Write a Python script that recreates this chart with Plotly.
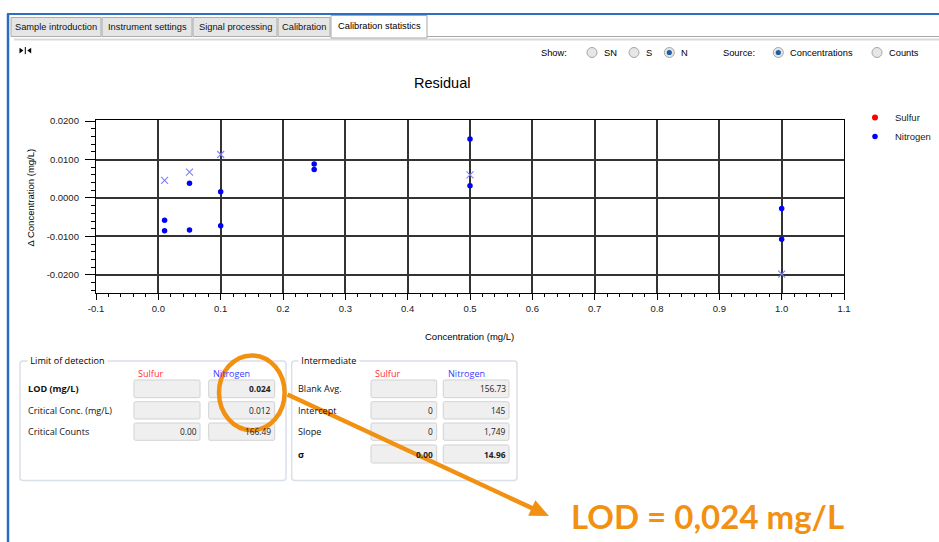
import math
import plotly.graph_objects as go

# ---------------- data ----------------
nitrogen_conc = [0.01, 0.01, 0.05, 0.05, 0.10, 0.10, 0.25, 0.25, 0.50, 0.50, 1.00, 1.00]
nitrogen_resid = [-0.0058, -0.0085, 0.0038, -0.0083, 0.0016, -0.0072,
                  0.0088, 0.0074, 0.0153, 0.0032, -0.0027, -0.0107]
nitrogen_x_conc = [0.01, 0.05, 0.10, 0.50, 1.00]
nitrogen_x_resid = [0.0046, 0.0067, 0.0113, 0.0060, -0.0198]
sulfur_conc = [None]
sulfur_resid = [None]

x_tickvals = [-0.1, 0.0, 0.1, 0.2, 0.3, 0.4, 0.5, 0.6, 0.7, 0.8, 0.9, 1.0, 1.1]
x_ticktext = ["-0.1", "0.0", "0.1", "0.2", "0.3", "0.4", "0.5", "0.6", "0.7", "0.8", "0.9", "1.0", "1.1"]
y_tickvals = [-0.02, -0.01, 0.0, 0.01, 0.02]
y_ticktext = ["-0.0200", "-0.0100", "0.0000", "0.0100", "0.0200"]

tab_labels = ["Sample introduction", "Instrument settings", "Signal processing", "Calibration",
              "Calibration statistics"]
show_options = ["SN", "S", "N"]
source_options = ["Concentrations", "Counts"]
lod_rows = ["LOD (mg/L)", "Critical Conc. (mg/L)", "Critical Counts"]
lod_sulfur = ["", "", "0.00"]
lod_nitrogen = ["0.024", "0.012", "166.49"]
inter_rows = ["Blank Avg.", "Intercept", "Slope", "σ"]
inter_sulfur = ["", "0", "0", "0.00"]
inter_nitrogen = ["156.73", "145", "1,749", "14.96"]
callout_text = "LOD = 0,024 mg/L"

# ---------------- geometry helpers (pixel -> paper) ----------------
W, H = 939, 542
PL, PR, PT, PB = 96, 844, 120, 293


def fx(p):
    return (p - PL) / (PR - PL)


def fy(p):
    return (PB - p) / (PB - PT)


shapes = []
annos = []
ORANGE = "#F29111"
UI_FONT = "Open Sans"
CH_FONT = "Liberation Sans"


def rect(x0, y0, x1, y1, fill="rgba(0,0,0,0)", line=None, lw=1, layer="below"):
    shapes.append(dict(type="rect", xref="paper", yref="paper",
                       x0=fx(x0), x1=fx(x1), y0=fy(y1), y1=fy(y0),
                       fillcolor=fill, layer=layer,
                       line=dict(color=line or "rgba(0,0,0,0)", width=lw if line else 0)))


def seg(x0, y0, x1, y1, color, width, layer="below"):
    shapes.append(dict(type="line", xref="paper", yref="paper",
                       x0=fx(x0), x1=fx(x1), y0=fy(y0), y1=fy(y1), layer=layer,
                       line=dict(color=color, width=width)))


def P(x, y):
    return f"{fx(x):.5f},{fy(y):.5f}"


def rrect(x0, y0, x1, y1, r, fill, line, lw=1, layer="below"):
    path = (f"M{P(x0 + r, y0)} L{P(x1 - r, y0)} Q{P(x1, y0)} {P(x1, y0 + r)} "
            f"L{P(x1, y1 - r)} Q{P(x1, y1)} {P(x1 - r, y1)} L{P(x0 + r, y1)} "
            f"Q{P(x0, y1)} {P(x0, y1 - r)} L{P(x0, y0 + r)} Q{P(x0, y0)} {P(x0 + r, y0)} Z")
    shapes.append(dict(type="path", xref="paper", yref="paper", path=path,
                       fillcolor=fill, layer=layer, line=dict(color=line, width=lw)))


def poly(pts, fill, layer="below"):
    path = "M" + " L".join(P(x, y) for x, y in pts) + " Z"
    shapes.append(dict(type="path", xref="paper", yref="paper", path=path,
                       fillcolor=fill, layer=layer, line=dict(width=0)))


def ellipse(cx, cy, rx, ry, fill="rgba(0,0,0,0)", line=None, lw=1, layer="below"):
    shapes.append(dict(type="circle", xref="paper", yref="paper",
                       x0=fx(cx - rx), x1=fx(cx + rx), y0=fy(cy + ry), y1=fy(cy - ry),
                       fillcolor=fill, layer=layer,
                       line=dict(color=line or "rgba(0,0,0,0)", width=lw if line else 0)))


def text(px, py, s, size=9, color="#000000", family=UI_FONT, xanchor="left", bg=None, angle=0):
    d = dict(xref="paper", yref="paper", x=fx(px), y=fy(py), text=s, showarrow=False,
             xanchor=xanchor, yanchor="middle", borderpad=0, textangle=angle,
             font=dict(size=size, color=color, family=family))
    if bg:
        d["bgcolor"] = bg
    annos.append(d)


# ---------------- window frame & tabs ----------------
seg(7, 14, W, 14, "#2e6fbf", 2)
seg(8, 14, 8, H, "#2a6cc0", 2.5)

tab_edges = [(11, 101), (102, 192), (193, 277), (278, 330), (331, 427)]
seg(427, 36.5, W, 36.5, "#a8a8a8", 1)
seg(14, 39.5, W, 39.5, "#d9d9d9", 2)
for i, (lab, (a, b)) in enumerate(zip(tab_labels, tab_edges)):
    if i == len(tab_labels) - 1:
        rect(a, 15.5, b, 38, fill="#ffffff", line="#a8a8a8", lw=1)
        text((a + b) / 2, 25.7, lab, size=9.3, family=CH_FONT, xanchor="center")
    else:
        rect(a, 17.5, b, 36.5, fill="#e5e5e5", line="#acacac", lw=1)
        text((a + b) / 2, 27.3, lab, size=9.3, family=CH_FONT, xanchor="center", color="#111111")

# splitter icon
poly([(19.5, 47.8), (19.5, 53.4), (23.3, 50.6)], "#000000")
seg(25.3, 47, 25.3, 54.2, "#000000", 1)
poly([(31.2, 47.8), (31.2, 53.4), (27.4, 50.6)], "#000000")

# radio rows
RY = 52.5
text(540, RY + 0.5, "Show:", size=9.3, family=CH_FONT)
text(722, RY + 0.5, "Source:", size=9.3, family=CH_FONT)
radio_x = [592, 634, 669.3, 778.3, 877]
radio_lab = show_options + source_options
radio_sel = [False, False, True, True, False]
for cx, lab, sel in zip(radio_x, radio_lab, radio_sel):
    ellipse(cx, RY, 5, 5, fill="#e6e6e6", line="#a5a5a5", lw=1)
    if sel:
        ellipse(cx, RY, 2.6, 2.6, fill="#1d5fa6")
    text(cx + 11, RY + 0.5, lab, size=9.3, family=CH_FONT)

# ---------------- chart texts ----------------
text(442, 83, "Residual", size=14.5, family=CH_FONT, xanchor="center")
text(469, 336.5, "Concentration (mg/L)", size=9.5, family=CH_FONT, xanchor="center")
text(29.5, 198, "Δ Concentration (mg/L)", size=9.5, family=CH_FONT, xanchor="center", angle=-90)

# ---------------- lower panels ----------------
GB_LINE = "#d9e0e8"
TB_FILL = "#efefef"
TB_LINE = "#d2d2d2"
RED = "#ff3030"
BLUE = "#3c3cff"
PF = 9.1   # panel label font size
VF = 8.4   # value font size

# Limit of detection group
rrect(20, 361, 286, 480.5, 3, "#ffffff", GB_LINE, 1.5)
text(26.5, 360.7, " Limit of detection ", size=PF, bg="#ffffff")
text(136.5, 373.3, "Sulfur", size=PF, color=RED)
text(211.5, 373.3, "Nitrogen", size=PF, color=BLUE)
lod_y = [(380, 397.7), (401.7, 419), (423, 440.3)]
for lab, sv, nv, (a, b) in zip(lod_rows, lod_sulfur, lod_nitrogen, lod_y):
    rrect(134, a, 200, b, 1.5, TB_FILL, TB_LINE, 1)
    rrect(208.7, a, 274.7, b, 1.5, TB_FILL, TB_LINE, 1)
    bold = lab.startswith("LOD")
    text(26.5, (a + b) / 2, f"<b>{lab}</b>" if bold else lab, size=PF, color="#111111")
    if sv:
        text(197.5, (a + b) / 2, f"<b>{sv}</b>" if bold else sv, size=VF, color="#222222", xanchor="right")
    if nv:
        text(271.7, (a + b) / 2, f"<b>{nv}</b>" if bold else nv, size=VF, color="#222222", xanchor="right")

# Intermediate group
rrect(291.7, 361, 517, 480.5, 3, "#ffffff", GB_LINE, 1.5)
text(297.5, 360.7, " Intermediate ", size=PF, bg="#ffffff")
text(374, 373.3, "Sulfur", size=PF, color=RED)
text(446.7, 373.3, "Nitrogen", size=PF, color=BLUE)
int_y = [(380, 397.7), (401.7, 419), (423, 440.3), (445, 463)]
for lab, sv, nv, (a, b) in zip(inter_rows, inter_sulfur, inter_nitrogen, int_y):
    rrect(371, a, 436.7, b, 1.5, TB_FILL, TB_LINE, 1)
    rrect(443.3, a, 509, b, 1.5, TB_FILL, TB_LINE, 1)
    bold = lab == "σ"
    text(296.5, (a + b) / 2, f"<b>{lab}</b>" if bold else lab, size=PF, color="#111111")
    if sv:
        text(434, (a + b) / 2, f"<b>{sv}</b>" if bold else sv, size=VF, color="#222222", xanchor="right")
    if nv:
        text(506.7, (a + b) / 2, f"<b>{nv}</b>" if bold else nv, size=VF, color="#222222", xanchor="right")

# ---------------- orange callout ----------------
ellipse(251.8, 392.8, 32.8, 37.4, line=ORANGE, lw=4.5, layer="above")
tail = (287.5, 394.5)
tip = (549, 516)
dx, dy = tip[0] - tail[0], tip[1] - tail[1]
ln = math.hypot(dx, dy)
ux, uy = dx / ln, dy / ln
nx, ny = -uy, ux
head_len, head_half = 19, 8.5
bx, by = tip[0] - head_len * ux, tip[1] - head_len * uy
seg(tail[0], tail[1], bx + 2 * ux, by + 2 * uy, ORANGE, 4.5, layer="above")
poly([tip, (bx + head_half * nx, by + head_half * ny), (bx - head_half * nx, by - head_half * ny)],
     ORANGE, layer="above")
text(707, 516, f"<b>{callout_text}</b>", size=33, color=ORANGE, family="Lato", xanchor="center")

# ---------------- traces ----------------
fig = go.Figure()
fig.add_trace(go.Scatter(x=sulfur_conc, y=sulfur_resid, mode="markers", name="Sulfur",
                         marker=dict(color="#ff0000", size=6)))
fig.add_trace(go.Scatter(x=nitrogen_conc, y=nitrogen_resid, mode="markers", name="Nitrogen",
                         marker=dict(color="#0000ff", size=5.5)))
fig.add_trace(go.Scatter(x=nitrogen_x_conc, y=nitrogen_x_resid, mode="markers", name="Nitrogen (x)",
                         showlegend=False,
                         marker=dict(symbol="x-thin", size=7, color="#8080ff",
                                     line=dict(color="#8080ff", width=1.1))))

axis_common = dict(showline=True, linecolor="#000000", linewidth=1.3, mirror=True,
                   showgrid=True, gridcolor="#333333", gridwidth=1.8, zeroline=False,
                   ticks="outside", tickcolor="#000000", tickwidth=1,
                   tickfont=dict(family=CH_FONT, size=9.5, color="#1a1a1a"), automargin=False)

fig.update_xaxes(range=[-0.1, 1.1], tickmode="array", tickvals=x_tickvals, ticktext=x_ticktext,
                 ticklen=6, minor=dict(tickmode="linear", tick0=0, dtick=0.02, ticklen=3,
                                       ticks="outside", tickcolor="#000000", showgrid=False),
                 **axis_common)
fig.update_yaxes(range=[-0.02468, 0.02026], tickmode="array", tickvals=y_tickvals, ticktext=y_ticktext,
                 ticklen=10, ticklabelstandoff=4,
                 minor=dict(tickmode="linear", tick0=0, dtick=0.002, ticklen=4,
                            ticks="outside", tickcolor="#000000", showgrid=False),
                 **axis_common)

fig.update_layout(
    width=W, height=H, autosize=False,
    margin=dict(l=PL, r=W - PR, t=PT, b=H - PB, pad=0, autoexpand=False),
    paper_bgcolor="#ffffff", plot_bgcolor="#ffffff",
    showlegend=True,
    legend=dict(x=fx(855), y=fy(103), xanchor="left", yanchor="top",
                font=dict(family=CH_FONT, size=9.5, color="#1a1a1a"),
                bgcolor="rgba(0,0,0,0)", tracegroupgap=0, itemwidth=30),
    shapes=shapes, annotations=annos,
)

fig.write_html("out.html", config={"displayModeBar": False},
               post_script="document.body.style.margin='0px';document.body.style.overflow='hidden';")
